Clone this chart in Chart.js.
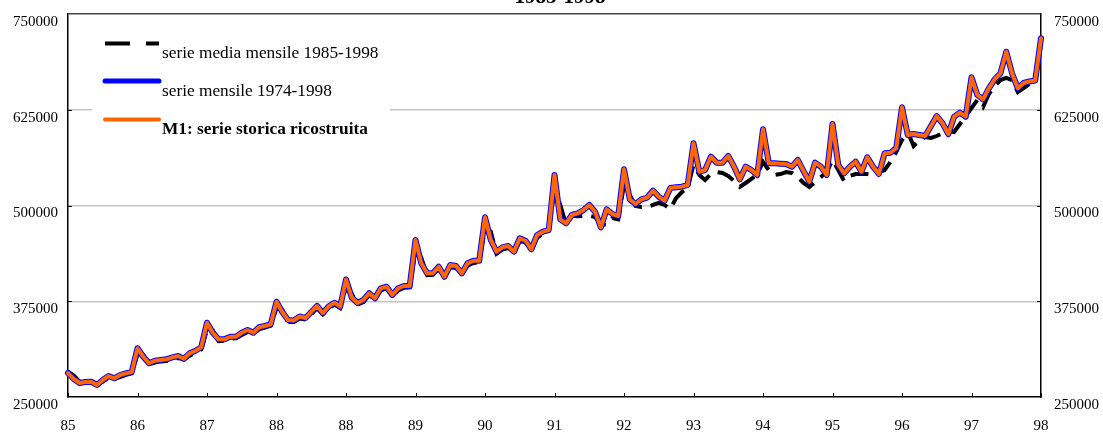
<!DOCTYPE html>
<html><head><meta charset="utf-8">
<script src="https://cdn.jsdelivr.net/npm/chart.js@4.4.1/dist/chart.umd.min.js"></script>
<style>html,body{margin:0;padding:0;background:#fff}#wrap{width:1103px;height:434px;position:relative}</style>
</head><body><div id="wrap"><canvas id="c"></canvas></div>
<script>
const chartTitle = '1985-1998';
const seriesNames = ['serie media mensile 1985-1998', 'serie mensile 1974-1998', 'M1: serie storica ricostruita'];
const xTickLabels = ['85','86','87','88','88','89','90','91','92','93','94','95','96','97','98'];
const yTickLabels = ['250000','375000','500000','625000','750000'];

const mediaMensile = [
283000,278000,270000,268000,269000,267000,270000,275000,274000,276000,279000,281000,
306000,305000,293000,295000,296500,297000,299500,301000,299000,304000,308000,312000,
338000,337000,323000,323500,326000,326500,331000,335000,332000,338500,340500,343000,
366000,364000,348000,348000,352500,351000,358000,366000,358000,365500,371000,366000,
393000,385000,370500,374000,383000,377000,389000,392000,381500,389000,392500,393000,
442000,432000,409000,409500,417000,406000,419500,418500,410000,421500,425000,426000,
470000,466000,437000,442500,444500,438000,453500,452000,441000,458000,463000,466000,
520000,500700,475000,487000,486000,486300,486800,485000,476000,474500,483700,482000,
526800,513700,499400,498000,498000,500700,503300,500700,495400,509800,517600,522900,
552900,539800,533300,541100,543700,542400,538500,532000,524200,529400,534600,541100,
556800,546300,539800,541100,543700,542400,537200,529400,524200,530700,537200,543700,
559400,546300,532000,538500,541100,541100,541100,539800,543700,546300,556800,569800,
585500,596000,577700,585500,589400,588100,590700,594700,597300,596000,606400,616800,
627300,637700,628600,645600,656000,663800,666500,663800,648200,653400,658600,661200,
712000];

const serieMensile = [
281300,273500,268300,269600,270000,265700,272200,277400,274400,278700,280900,282600,
313600,302600,294000,297400,298300,299200,301800,303500,300000,307000,310400,314900,
347000,333900,325300,325300,328700,328700,333900,337500,333900,341000,342700,344900,
374400,361000,350500,349900,355100,353100,361000,368800,359700,368100,373100,368100,
403400,379900,372700,376600,385400,378900,391900,394000,383200,391900,394900,394900,
455000,424500,411500,411500,420100,407000,422300,421000,411500,424500,427900,427900,
484600,455000,439700,445400,447100,439700,457200,454000,442800,461500,465800,468000,
539800,482000,476800,487600,489800,494100,500600,491900,471500,495000,488900,486300,
547300,508100,502000,508100,510400,519300,511500,506300,522800,523800,524600,526800,
581200,544100,546300,563700,555900,555900,564600,550700,534200,550700,546300,539800,
599500,555100,555100,554600,554200,550700,559400,545000,531100,555900,550700,539800,
606400,552900,542000,550700,557200,544100,563000,550700,541100,568100,568900,574700,
628200,592000,593300,592000,590700,603800,616800,607300,593300,615900,621200,615900,
667400,644300,638600,653000,664800,672600,700800,672600,653000,659900,661900,663200,
718300];

const serieRicostruita = [
281300,273500,268300,269600,270000,265700,272200,277400,274400,278700,280900,282600,
313600,302600,294000,297400,298300,299200,301800,303500,300000,307000,310400,314900,
347000,333900,325300,325300,328700,328700,333900,337500,333900,341000,342700,344900,
374400,361000,350500,349900,355100,353100,361000,368800,359700,368100,373100,368100,
403400,379900,372700,376600,385400,378900,391900,394000,383200,391900,394900,394900,
455000,424500,411500,411500,420100,407000,422300,421000,411500,424500,427900,427900,
484600,455000,439700,445400,447100,439700,457200,454000,442800,461500,465800,468000,
539800,482000,476800,487600,489800,494100,500600,491900,471500,495000,488900,486300,
547300,508100,502000,508100,510400,519300,511500,506300,522800,523800,524600,526800,
581200,544100,546300,563700,555900,555900,564600,550700,534200,550700,546300,539800,
599500,555100,555100,554600,554200,550700,559400,545000,531100,555900,550700,539800,
606400,552900,542000,550700,557200,544100,563000,550700,541100,568100,568900,574700,
628200,592000,593300,592000,590700,603800,616800,607300,593300,615900,621200,615900,
667400,644300,638600,653000,664800,672600,700800,672600,653000,659900,661900,663200,
718300];

// monthly periods (one category per observation)
const categories = [];
for (let i = 0; i < serieRicostruita.length; i++) {
  categories.push((1985 + Math.floor(i / 12)) + '-' + String(i % 12 + 1).padStart(2, '0'));
}

const FONT = "'Liberation Serif','Times New Roman',Times,serif";
const COLORS = { media: '#000000', mensile: '#0000ff', ricostruita: '#ff6600' };

const decorPlugin = {
  id: 'decor',
  beforeDatasetsDraw(chart) {
    const ctx = chart.ctx;
    ctx.save();
    ctx.fillStyle = '#ffffff';
    ctx.fillRect(92, 22, 298, 118);
    const items = [
      { y: 43.5, text: seriesNames[0], color: COLORS.media, w: 4, dash: [25, 16], cap: 'butt', bold: false, ty: 53.5 },
      { y: 81, text: seriesNames[1], color: COLORS.mensile, w: 5, dash: [], cap: 'round', bold: false, ty: 91.5 },
      { y: 119.5, text: seriesNames[2], color: COLORS.ricostruita, w: 4, dash: [], cap: 'round', bold: true, ty: 129.5 }
    ];
    items.forEach(it => {
      ctx.beginPath();
      ctx.setLineDash(it.dash);
      ctx.lineCap = it.cap;
      ctx.lineWidth = it.w;
      ctx.strokeStyle = it.color;
      ctx.moveTo(105, it.y);
      ctx.lineTo(159, it.y);
      ctx.stroke();
      ctx.setLineDash([]);
      ctx.fillStyle = '#000';
      ctx.font = (it.bold ? 'bold ' : '') + '17.3px ' + FONT;
      ctx.textBaseline = 'middle';
      ctx.textAlign = 'left';
      ctx.fillText(it.text, 162, it.ty);
    });
    ctx.restore();
  },
  afterDraw(chart) {
    const ctx = chart.ctx;
    const xs = chart.scales.x, yl = chart.scales.y, a = chart.chartArea;
    ctx.save();
    ctx.strokeStyle = '#000';
    ctx.lineWidth = 1;
    ctx.beginPath();
    for (let k = 0; k < xTickLabels.length; k++) {
      const px = Math.round(xs.getPixelForValue(k * 12)) + 0.5;
      ctx.moveTo(px, a.bottom); ctx.lineTo(px, a.bottom - 4);
    }
    [375000, 500000, 625000].forEach(v => {
      const py = Math.round(yl.getPixelForValue(v)) + 0.5;
      ctx.moveTo(a.left, py); ctx.lineTo(a.left + 4, py);
      ctx.moveTo(a.right, py); ctx.lineTo(a.right - 4, py);
    });
    ctx.stroke();
    ctx.fillStyle = '#000';
    ctx.font = 'bold 21px ' + FONT;
    ctx.textAlign = 'center';
    ctx.textBaseline = 'alphabetic';
    ctx.fillText(chartTitle, 560, 2.5);
    ctx.restore();
  }
};

const yTickCb = (value) => {
  const i = [250000, 375000, 500000, 625000, 750000].indexOf(value);
  return i >= 0 ? yTickLabels[i] : '';
};

new Chart(document.getElementById('c'), {
  type: 'line',
  data: {
    labels: categories,
    datasets: [
      { label: seriesNames[2], data: serieRicostruita, borderColor: COLORS.ricostruita, borderWidth: 4, pointRadius: 0, tension: 0, borderJoinStyle: 'round', borderCapStyle: 'round', order: 0 },
      { label: seriesNames[1], data: serieMensile, borderColor: COLORS.mensile, borderWidth: 6, pointRadius: 0, tension: 0, borderJoinStyle: 'round', borderCapStyle: 'round', order: 1 },
      { label: seriesNames[0], data: mediaMensile, borderColor: COLORS.media, borderWidth: 4, borderDash: [18, 9], pointRadius: 0, tension: 0, order: 2 }
    ]
  },
  options: {
    responsive: true,
    maintainAspectRatio: false,
    animation: false,
    layout: { padding: { top: 14, left: 0, right: 0, bottom: 0 } },
    plugins: { legend: { display: false }, title: { display: false }, tooltip: { enabled: false } },
    scales: {
      x: {
        type: 'category',
        offset: false,
        grid: { display: false, drawTicks: false },
        border: { display: true, color: '#000', width: 1.5 },
        ticks: {
          autoSkip: false, maxRotation: 0, minRotation: 0, padding: 20,
          color: '#000', font: { family: FONT, size: 15 },
          callback: (v, i) => (i % 12 === 0 ? xTickLabels[i / 12] : '')
        },
        afterFit: s => { s.height = 37; s.paddingLeft = 0; s.paddingRight = 0; }
      },
      y: {
        position: 'left', min: 250000, max: 750000,
        grid: {
          drawTicks: false,
          lineWidth: 1.5,
          color: ctx => {
            const v = ctx.tick ? ctx.tick.value : 0;
            if (v === 750000) return '#444444';
            if (v === 250000) return 'rgba(0,0,0,0)';
            return '#c4c4c4';
          }
        },
        border: { display: true, color: '#000', width: 1.5 },
        ticks: { stepSize: 125000, padding: 10, labelOffset: 8, color: '#000', font: { family: FONT, size: 15 }, callback: yTickCb },
        afterFit: s => { s.width = 68; s.paddingTop = 0; s.paddingBottom = 0; }
      },
      y2: {
        position: 'right', min: 250000, max: 750000,
        grid: { display: false, drawTicks: false },
        border: { display: true, color: '#000', width: 1.5 },
        ticks: { stepSize: 125000, padding: 13, labelOffset: 8, color: '#000', font: { family: FONT, size: 15 }, callback: yTickCb },
        afterFit: s => { s.width = 62; s.paddingTop = 0; s.paddingBottom = 0; }
      }
    }
  },
  plugins: [decorPlugin]
});
</script>
</body></html>
